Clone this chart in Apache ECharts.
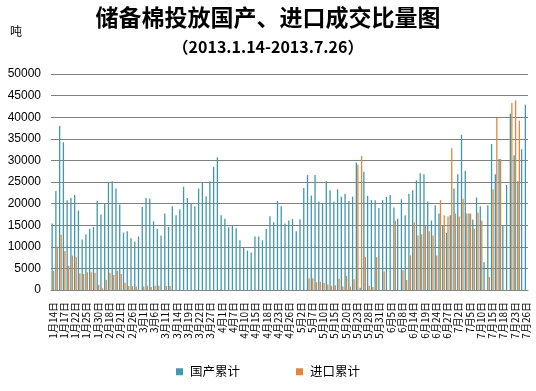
<!DOCTYPE html>
<html><head><meta charset="utf-8">
<script src="https://cdn.jsdelivr.net/npm/echarts@6/dist/echarts.min.js"></script>
<style>html,body{margin:0;padding:0;background:#fff}#c{width:536px;height:391px}</style>
</head><body><div id="c"></div>
<script>
var months = ['1月','2月','3月','4月','5月','6月','7月'];
var days = [
  [14,15,16,17,18,21,22,23,24,25,28,29,30,31],
  [1,18,19,20,21,22,25,26,27,28],
  [1,4,5,6,7,8,11,12,13,14,15,18,19,20,21,22,25,26,27,28,29],
  [1,2,3,7,8,9,10,11,12,15,16,17,18,19,22,23,24,25,26,27,28],
  [2,3,6,7,8,9,10,13,14,15,16,17,20,21,22,23,24,27,28,29,30,31],
  [3,4,5,6,7,8,9,13,14,17,18,19,20,21,24,25,26,27,28],
  [1,2,3,4,5,8,9,10,11,12,15,16,17,18,19,22,23,24,25,26]
];
var domestic = [
15400,22900,38000,34200,20800,21300,22000,18400,11700,12900,
14200,14600,20600,17500,20000,25000,25200,23500,19800,13300,
13600,12000,11200,12400,19200,21300,21200,15900,14200,12600,
17700,14600,19400,17300,18700,23900,21300,20000,19400,23500,
24800,21700,25200,28500,30700,17300,16500,14500,15000,14300,
11500,9700,9100,8700,12400,12400,11500,14200,17100,15700,
20600,19400,15400,16100,16400,13600,16400,23600,26600,21900,
26600,20500,20000,25200,23100,20500,23300,21600,22300,20600,
21600,29500,500,27400,21800,20800,20800,19000,20800,21600,
22000,19100,16500,21000,17300,22300,23100,25400,27000,26800,
20500,16100,19600,17700,15000,13200,17300,23500,26800,35900,
27600,17700,16300,21400,19400,6400,19600,33800,26800,30300,
15000,24300,40800,31200,25200,32600,42900];
var imported = [
4400,10000,12800,9000,5600,8000,7600,3900,3700,4100,
4100,4000,1200,400,2400,4000,3500,4400,3700,1700,
900,900,800,0,800,1000,700,1000,1000,0,
900,900,0,0,0,0,0,0,0,0,
0,0,0,0,0,0,0,0,0,0,
0,0,0,0,0,0,0,0,0,0,
0,0,0,0,0,0,0,0,2700,2700,
1800,1900,1600,1300,1000,1100,2600,800,3300,800,
2500,29000,31000,7700,1000,700,7600,0,4300,0,
0,16000,0,4600,2300,8000,15700,12600,12900,14800,
13600,12600,8000,20800,17300,17000,32800,17700,17000,21100,
17700,17700,14200,17900,16100,0,3000,23300,39800,30300,
0,0,43300,43900,39200,0,0];
var yTicks = ['0','5000','10000','15000','20000','25000','30000','35000','40000','45000','50000'];
var categories = [];
days.forEach(function(list, m){ list.forEach(function(d){ categories.push(months[m] + d + '日'); }); });

var cjk = '"Noto Sans CJK SC", sans-serif';
var chart = echarts.init(document.getElementById('c'));
chart.setOption({
  backgroundColor: '#fff',
  animation: false,
  title: [
    {text: '储备棉投放国产、进口成交比量图', left: 'center', top: 1,
     textStyle: {fontFamily: cjk, fontSize: 23, fontWeight: 'bold', color: '#000'}},
    {text: '（2013.1.14-2013.7.26）', left: 'center', top: 34,
     textStyle: {fontFamily: cjk, fontSize: 16, fontWeight: 'bold', color: '#000'}}
  ],
  graphic: [{type: 'text', left: 10, top: 25, style: {text: '吨', font: '12px "Noto Sans CJK SC"', fill: '#000'}}],
  legend: {
    bottom: 8, left: 'center', itemWidth: 7, itemHeight: 7, itemGap: 56, icon: 'rect',
    textStyle: {fontFamily: cjk, fontSize: 12.5, color: '#000', padding: [0, 0, 0, 2]},
    data: ['国产累计', '进口累计']
  },
  grid: {left: 51, right: 8, top: 74, bottom: 101},
  xAxis: {
    type: 'category', data: categories,
    axisLine: {lineStyle: {color: '#868686'}},
    axisTick: {show: false},
    axisLabel: {interval: 2, rotate: 90, fontSize: 10, color: '#000', fontFamily: cjk, margin: 12}
  },
  yAxis: {
    type: 'value', min: 0, max: 50000, interval: 5000,
    axisLine: {show: false}, axisTick: {show: false},
    splitLine: {lineStyle: {color: '#808080', width: 1}},
    axisLabel: {fontSize: 12, color: '#000', fontFamily: 'Liberation Sans', margin: 10,
      formatter: function(v){ return yTicks[Math.round(v / 5000)]; }}
  },
  series: [
    {name: '国产累计', type: 'bar', data: domestic, itemStyle: {color: '#4299AD'},
     barGap: '15%', barCategoryGap: '25%'},
    {name: '进口累计', type: 'bar', data: imported, itemStyle: {color: '#E3873F'}}
  ]
});
</script></body></html>
